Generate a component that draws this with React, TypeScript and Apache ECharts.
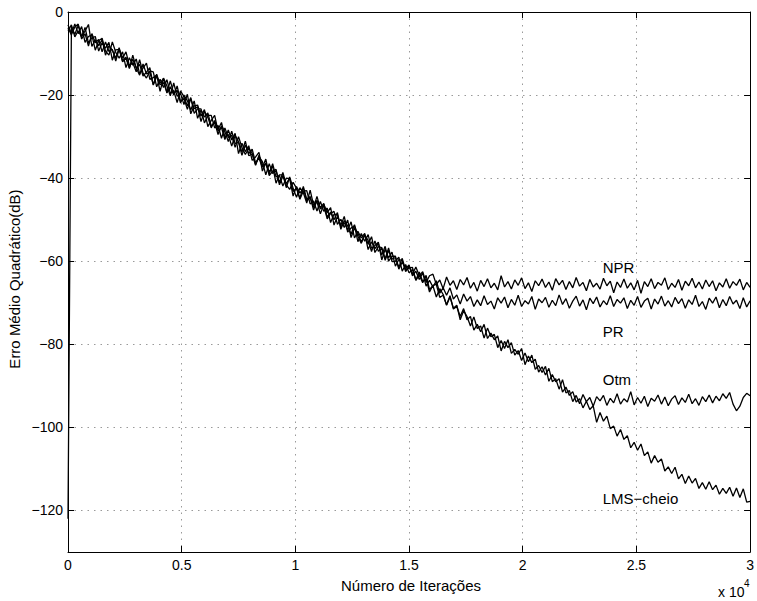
import React, { useEffect, useRef } from "react";
import * as echarts from "echarts";

// Iteration spacing between consecutive samples
const STEP = 150;

// Mean squared error (dB) per sample
const NPR = [
  -3.1,-5.2,-2.9,-5.2,-3.5,-7.3,-5.9,-5.5,-9.2,-6.9,
  -6.3,-9.4,-10.4,-7.2,-9.7,-11.1,-9.6,-13.4,-11.0,-12.8,
  -11.3,-14.9,-13.5,-12.3,-16.2,-15.8,-15.2,-19.1,-15.9,-17.8,
  -20.2,-17.1,-20.3,-19.6,-22.3,-19.8,-24.5,-22.6,-22.4,-25.1,
  -23.5,-27.6,-26.1,-24.9,-28.7,-27.8,-30.7,-28.4,-30.8,-29.2,
  -34.1,-31.6,-33.6,-32.2,-35.7,-34.9,-33.8,-38.3,-36.3,-38.5,
  -37.1,-41.2,-39.2,-39.2,-42.3,-39.7,-42.4,-44.6,-42.3,-43.5,
  -46.0,-42.9,-46.5,-45.7,-48.6,-46.3,-48.3,-47.1,-51.3,-49.2,
  -51.4,-49.2,-53.0,-52.0,-51.5,-55.3,-53.3,-55.2,-53.6,-56.9,
  -56.2,-55.4,-59.7,-57.1,-59.2,-57.8,-61.2,-59.6,-59.8,-62.5,
  -61.2,-63.1,-61.4,-63.5,-62.5,-65.1,-63.5,-63.1,-65.6,-64.5,
  -66.6,-63.8,-65.8,-64.7,-66.8,-64.4,-65.7,-63.9,-66.5,-65.1,
  -67.2,-64.6,-66.1,-64.2,-66.4,-65.3,-66.9,-63.5,-66.2,-64.9,
  -66.7,-64.5,-65.8,-64.0,-66.6,-65.2,-67.3,-64.7,-65.9,-64.3,
  -66.3,-65.0,-67.0,-64.2,-65.7,-64.6,-66.8,-64.9,-66.4,-63.9,
  -66.0,-65.1,-67.1,-64.4,-66.2,-65.3,-66.7,-64.1,-65.9,-64.8,
  -67.6,-65.0,-66.3,-64.3,-66.5,-65.2,-66.9,-64.6,-67.7,-64.9,
  -66.1,-64.2,-66.6,-65.1,-65.8,-64.0,-66.8,-65.3,-66.3,-64.4,
  -67.0,-64.8,-65.9,-64.1,-66.4,-65.0,-66.7,-64.5,-66.1,-64.7,
  -67.1,-65.2,-66.2,-64.2,-66.5,-64.9,-65.8,-64.3,-66.9,-65.1,
  -66.3,
];

const PR = [
  -4.5,-3.1,-6.0,-4.5,-6.0,-3.7,-7.5,-6.2,-5.9,-9.4,
  -7.4,-8.7,-7.3,-11.6,-9.1,-9.0,-12.0,-11.1,-13.6,-10.4,
  -13.5,-12.6,-15.4,-14.5,-13.4,-17.6,-15.5,-17.1,-16.0,-19.5,
  -18.0,-20.0,-17.8,-21.5,-20.8,-23.4,-20.9,-23.3,-22.8,-26.4,
  -23.9,-25.3,-27.9,-26.1,-28.3,-26.6,-30.1,-29.5,-32.3,-29.7,
  -31.2,-33.7,-31.1,-34.6,-34.2,-36.7,-34.8,-36.0,-39.2,-36.5,
  -38.9,-38.2,-41.1,-38.6,-41.6,-42.7,-41.0,-42.4,-45.1,-43.1,
  -43.0,-46.2,-45.5,-47.9,-45.6,-48.0,-47.2,-50.7,-48.7,-48.7,
  -51.8,-50.7,-52.5,-50.5,-54.4,-52.8,-54.4,-53.3,-57.2,-55.3,
  -57.0,-55.7,-58.5,-56.4,-60.0,-58.8,-58.8,-61.9,-60.2,-61.8,
  -60.9,-63.5,-62.4,-64.4,-62.8,-66.0,-64.6,-66.2,-64.7,-67.7,
  -66.4,-68.2,-66.4,-69.1,-68.1,-70.3,-67.9,-69.6,-68.5,-70.9,
  -69.3,-70.7,-68.3,-70.4,-69.6,-71.5,-68.8,-70.1,-68.6,-71.2,
  -69.2,-70.6,-68.2,-70.9,-69.5,-70.3,-68.5,-71.6,-69.1,-70.0,
  -68.7,-71.1,-69.4,-70.7,-68.1,-70.4,-69.0,-71.3,-69.6,-68.4,
  -70.8,-69.3,-71.7,-68.9,-70.2,-68.6,-71.0,-69.5,-70.5,-68.3,
  -70.9,-69.2,-70.1,-68.8,-71.4,-69.4,-70.6,-68.5,-71.1,-69.6,
  -68.9,-71.5,-69.1,-70.3,-68.4,-70.8,-69.5,-71.0,-68.7,-70.2,
  -69.0,-71.3,-69.3,-70.4,-68.2,-70.9,-69.7,-71.6,-68.9,-70.1,
  -68.6,-71.2,-69.2,-70.7,-68.5,-70.3,-69.4,-71.4,-68.8,-71.0,
  -69.5,
];

const OTM = [
  -3.8,-5.5,-3.6,-2.9,-6.5,-5.2,-8.2,-5.2,-7.4,-6.6,
  -9.6,-7.2,-9.5,-9.0,-11.8,-8.9,-11.1,-9.6,-12.9,-12.2,
  -14.4,-11.5,-14.7,-15.9,-14.2,-14.4,-18.0,-16.2,-18.2,-16.3,
  -19.6,-18.9,-21.8,-19.0,-20.4,-22.6,-20.6,-24.4,-23.3,-23.3,
  -26.7,-24.9,-24.9,-27.9,-27.3,-30.4,-27.9,-30.2,-29.7,-32.6,
  -30.0,-32.6,-34.3,-32.8,-34.0,-36.9,-34.5,-36.9,-36.6,-39.1,
  -36.5,-39.7,-39.4,-41.9,-40.0,-40.1,-44.3,-42.0,-43.6,-42.4,
  -45.5,-44.7,-47.1,-44.4,-47.4,-46.7,-49.8,-48.5,-48.0,-51.1,
  -49.9,-51.9,-50.1,-54.3,-52.0,-53.2,-55.4,-53.6,-55.9,-54.1,
  -57.9,-56.5,-56.7,-59.8,-57.4,-59.5,-59.1,-61.5,-59.3,-62.2,
  -61.6,-61.5,-64.6,-63.3,-65.2,-63.4,-66.8,-65.9,-68.6,-66.6,
  -68.0,-70.6,-68.6,-71.3,-70.6,-74.1,-71.9,-73.3,-75.6,-73.4,
  -76.2,-75.6,-78.5,-76.1,-78.2,-77.6,-80.8,-79.1,-81.0,-78.9,
  -82.2,-81.2,-82.4,-81.0,-84.9,-82.8,-84.4,-83.6,-86.7,-85.4,
  -87.4,-85.8,-89.0,-88.3,-90.8,-88.5,-91.7,-91.1,-93.8,-92.3,
  -94.3,-92.1,-93.8,-92.8,-94.9,-92.6,-93.6,-92.3,-94.7,-93.0,
  -94.1,-91.9,-94.4,-93.1,-93.9,-91.4,-94.6,-92.8,-94.2,-92.5,
  -95.0,-93.0,-93.7,-92.2,-94.4,-92.7,-94.8,-93.2,-92.4,-94.5,
  -92.9,-94.0,-92.0,-94.3,-93.1,-94.7,-92.6,-93.8,-92.2,-94.1,
  -92.5,-93.6,-91.9,-93.0,-91.6,-94.4,-96.0,-94.9,-92.8,-91.8,
  -92.4,
];

const LMS = [
  -122,-3.5,-5.4,-3.2,-5.8,-4.6,-3.0,-8.3,-6.7,-8.1,
  -6.7,-10.4,-8.1,-9.2,-11.1,-8.6,-11.8,-10.9,-13.4,-11.4,
  -13.4,-15.2,-12.5,-14.9,-14.5,-17.5,-15.0,-17.5,-17.0,-19.3,
  -16.6,-19.6,-18.8,-21.9,-20.0,-21.4,-23.6,-21.4,-25.6,-23.6,
  -25.3,-24.3,-27.5,-26.5,-29.5,-27.4,-28.8,-31.2,-28.7,-31.7,
  -31.4,-34.5,-32.0,-34.1,-33.0,-36.3,-35.2,-37.4,-35.4,-39.4,
  -38.3,-37.9,-41.6,-39.5,-41.3,-40.0,-43.2,-42.4,-44.8,-42.0,
  -45.1,-44.4,-47.7,-45.3,-47.1,-46.1,-49.4,-48.2,-50.0,-48.3,
  -52.3,-50.2,-51.5,-53.5,-51.2,-54.0,-55.7,-53.7,-55.0,-57.7,
  -55.1,-57.6,-56.9,-59.4,-56.8,-60.1,-60.0,-59.0,-62.4,-60.8,
  -62.8,-62.0,-64.5,-62.6,-64.9,-64.2,-67.4,-65.8,-65.6,-68.7,
  -68.2,-70.5,-68.3,-71.5,-70.9,-73.3,-71.4,-74.1,-73.3,-76.6,
  -75.2,-77.0,-75.2,-78.6,-77.3,-78.9,-78.0,-81.6,-79.3,-80.8,
  -79.6,-82.6,-81.5,-83.9,-82.1,-84.2,-82.6,-86.0,-85.1,-86.8,
  -85.3,-88.9,-87.3,-89.0,-88.3,-91.5,-90.3,-92.3,-91.4,-93.9,
  -93.1,-95.3,-93.7,-95.7,-94.8,-98.8,-96.4,-98.5,-97.3,-100.3,
  -99.7,-102.1,-100.5,-102.9,-102.0,-104.9,-103.6,-105.5,-104.0,-106.8,
  -105.9,-108.6,-106.8,-108.4,-107.6,-110.5,-109.5,-111.1,-109.6,-112.4,
  -111.3,-113.5,-111.7,-113.4,-112.3,-114.7,-113.3,-114.9,-113.1,-115.0,
  -113.9,-116.1,-114.7,-115.9,-114.4,-116.6,-114.6,-116.9,-114.8,-118.0,
  -117.8,
];

const SERIES_NAMES = ["NPR", "PR", "Otm", "LMS-cheio"];
const SERIES_VALUES = [NPR, PR, OTM, LMS];

// Curve labels and their anchor points (iterations, dB)
const LABEL_TEXTS = ["NPR", "PR", "Otm", "LMS\u2212cheio"];
const LABEL_ITER = [23520, 23520, 23520, 23520];
const LABEL_DB = [-61.4, -77.0, -88.5, -117.1];

const X_TITLE = "Número de Iterações";
const Y_TITLE = "Erro Médio Quadrático(dB)";

const FONT = "'Liberation Sans', Arial, Helvetica, sans-serif";

export default function App() {
  const ref = useRef<HTMLDivElement>(null);

  useEffect(() => {
    if (!ref.current) return;
    const chart = echarts.init(ref.current, null, { renderer: "svg" });

    const axisLine = { show: true, onZero: false, lineStyle: { color: "#000", width: 1 } };
    const axisTick = { show: true, inside: true, length: 6, lineStyle: { color: "#000", width: 1 } };
    const splitLine = { show: true, lineStyle: { color: "#9a9a9a", width: 1, type: [1.5, 5] } };
    const fmtY = (v: number) => (v < 0 ? "\u2212" + Math.abs(v) : String(v));
    const fmtX = (v: number) => String(v / 10000);
    const labelStyle = { color: "#000", fontFamily: FONT, fontSize: 14 };

    const option: any = {
      animation: false,
      backgroundColor: "#fff",
      grid: { left: 68, right: 4, top: 12, bottom: 49, containLabel: false },
      xAxis: [
        {
          type: "value", min: 0, max: 30000, interval: 5000, position: "bottom",
          axisLine, axisTick, splitLine,
          axisLabel: { ...labelStyle, formatter: fmtX, margin: 6 },
        },
        {
          type: "value", min: 0, max: 30000, interval: 5000, position: "top",
          axisLine, axisTick, splitLine: { show: false }, axisLabel: { show: false },
        },
      ],
      yAxis: [
        {
          type: "value", min: -130, max: 0, splitNumber: 7, position: "left",
          axisLine, axisTick, splitLine,
          axisLabel: { ...labelStyle, formatter: fmtY, margin: 5, showMinLabel: false },
        },
        {
          type: "value", min: -130, max: 0, splitNumber: 7, position: "right",
          axisLine, axisTick, splitLine: { show: false }, axisLabel: { show: false },
        },
      ],
      series: SERIES_VALUES.map((vals, k) => ({
        name: SERIES_NAMES[k],
        type: "line",
        xAxisIndex: 0,
        yAxisIndex: 0,
        showSymbol: false,
        symbol: "none",
        silent: true,
        lineStyle: { color: "#000", width: 1.3 },
        data: vals.map((v, i) => [i * STEP, v]),
      })),
    };
    chart.setOption(option);

    const labels = LABEL_TEXTS.map((t, k) => {
      const p = chart.convertToPixel({ gridIndex: 0 }, [LABEL_ITER[k], LABEL_DB[k]]) as number[];
      return {
        type: "text",
        x: p[0],
        y: p[1],
        silent: true,
        style: { text: t, fill: "#000", font: `15px ${FONT}`, align: "left", verticalAlign: "middle" },
      };
    });

    chart.setOption({
      graphic: [
        ...labels,
        {
          type: "text", x: 411, y: 585, silent: true,
          style: { text: X_TITLE, fill: "#000", font: `15px ${FONT}`, align: "center", verticalAlign: "middle" },
        },
        {
          type: "text", x: 14, y: 279, rotation: Math.PI / 2, silent: true,
          style: { text: Y_TITLE, fill: "#000", font: `15px ${FONT}`, align: "center", verticalAlign: "middle" },
        },
        {
          type: "text", x: 718, y: 592, silent: true,
          style: { text: "x 10", fill: "#000", font: `14px ${FONT}`, align: "left", verticalAlign: "middle" },
        },
        {
          type: "text", x: 744, y: 583, silent: true,
          style: { text: "4", fill: "#000", font: `10px ${FONT}`, align: "left", verticalAlign: "middle" },
        },
      ],
    });

    return () => chart.dispose();
  }, []);

  return (
    <div
      ref={ref}
      style={{ position: "fixed", left: 0, top: 0, width: 757, height: 601, background: "#fff" }}
    />
  );
}
